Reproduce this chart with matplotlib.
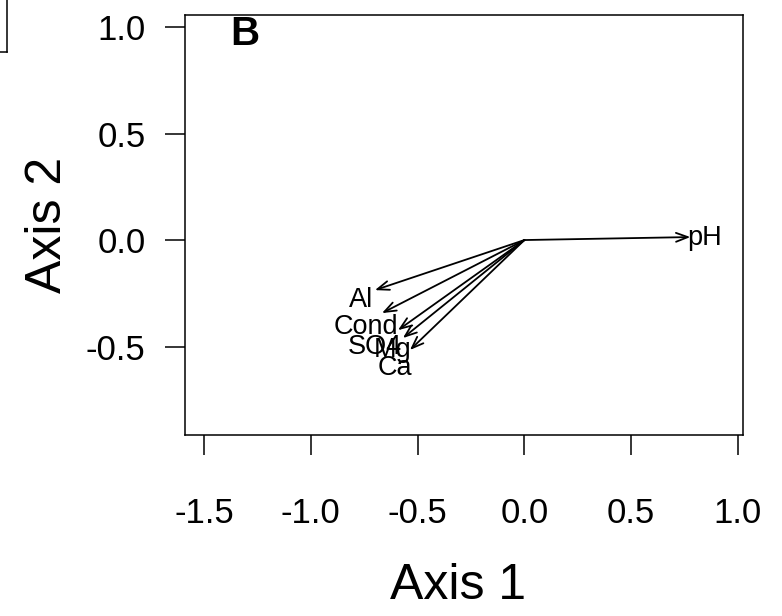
import matplotlib
matplotlib.use("Agg")
import matplotlib.pyplot as plt
from matplotlib.lines import Line2D

plt.rcParams["font.family"] = ["Liberation Sans", "DejaVu Sans"]

# envfit vectors (arrow tips) and where the labels sit
variables = ["pH", "Al", "Cond", "SO4", "Mg", "Ca"]
tip_x = [0.777, -0.700, -0.667, -0.592, -0.569, -0.536]
tip_y = [0.014, -0.235, -0.343, -0.423, -0.460, -0.516]
label_x = [0.842, -0.765, -0.740, -0.699, -0.615, -0.605]
label_y = [0.009, -0.282, -0.408, -0.502, -0.516, -0.601]

x_ticks = [-1.5, -1.0, -0.5, 0.0, 0.5, 1.0]
y_ticks = [-0.5, 0.0, 0.5, 1.0]

fig = plt.figure(figsize=(7.82, 6.16), dpi=100)
ax = fig.add_axes([0.2366, 0.2938, 0.7134, 0.6818])

for x, y in zip(tip_x, tip_y):
    ax.annotate("", xy=(x, y), xytext=(0, 0),
                arrowprops=dict(arrowstyle="->,head_length=0.85,head_width=0.32",
                                lw=1.3, color="black", shrinkA=0, shrinkB=0))
for name, x, y in zip(variables, label_x, label_y):
    ax.text(x, y, name, fontsize=19.5, ha="center", va="center")

ax.text(-1.31, 0.965, "B", fontsize=29, fontweight="bold", ha="center", va="center")

ax.set_xlim(-1.589, 1.023)
ax.set_ylim(-0.915, 1.056)
ax.set_xticks(x_ticks)
ax.set_xticklabels([f"{v:.1f}" for v in x_ticks])
ax.set_yticks(y_ticks)
ax.set_yticklabels([f"{v:.1f}" for v in y_ticks])
ax.tick_params(axis="x", length=14.5, width=1.1, pad=30, labelsize=25)
ax.tick_params(axis="y", length=14.5, width=1.1, pad=14, labelsize=25)
for s in ax.spines.values():
    s.set_linewidth(1.1)

fig.text(458 / 782, 1 - 586 / 616, "Axis 1", fontsize=36, ha="center", va="center")
fig.text(48 / 782, 1 - 225 / 616, "Axis 2", fontsize=36, ha="center", va="center",
         rotation=90)

# edge of the neighbouring panel, cut off at the top-left corner
fig.add_artist(Line2D([7 / 782, 7 / 782], [1.0, 1 - 52 / 616], color="black", lw=1.1))
fig.add_artist(Line2D([0, 7 / 782], [1 - 52 / 616, 1 - 52 / 616], color="black", lw=1.1))

fig.savefig("out.png", dpi=100)
